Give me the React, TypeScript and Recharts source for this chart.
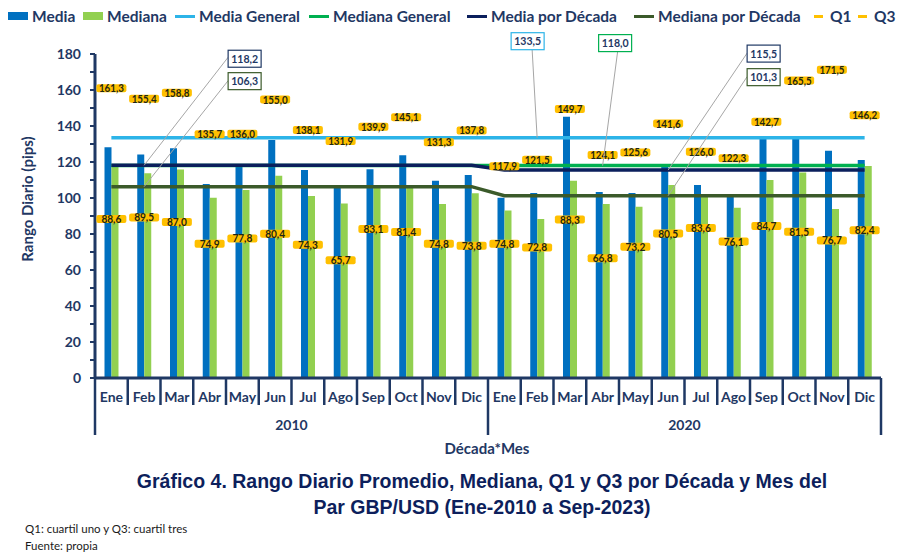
import React from "react";
import { ComposedChart, Bar, Line, XAxis, YAxis } from "recharts";

const meses = ["Ene", "Feb", "Mar", "Abr", "May", "Jun", "Jul", "Ago", "Sep", "Oct", "Nov", "Dic"];
const decadas = ["2010", "2020"];

const media2010 = [128.2, 124.1, 127.6, 107.8, 118.3, 132.2, 115.6, 106.3, 116.0, 123.7, 109.6, 112.8];
const media2020 = [100.2, 102.8, 145.2, 103.3, 102.8, 117.4, 107.2, 101.7, 133.1, 134.1, 126.3, 121.1];
const mediana2010 = [117.8, 113.7, 115.9, 100.2, 104.4, 112.4, 101.1, 97.0, 105.6, 105.8, 96.7, 102.6];
const mediana2020 = [93.0, 88.3, 109.6, 96.7, 95.2, 107.2, 101.5, 94.6, 110.0, 114.1, 93.9, 117.8];
const q1_2010 = [88.6, 89.5, 87.0, 74.9, 77.8, 80.4, 74.3, 65.7, 83.1, 81.4, 74.8, 73.8];
const q1_2020 = [74.8, 72.8, 88.3, 66.8, 73.2, 80.5, 83.6, 76.1, 84.7, 81.5, 76.7, 82.4];
const q3_2010 = [161.3, 155.4, 158.8, 135.7, 136.0, 155.0, 138.1, 131.9, 139.9, 145.1, 131.3, 137.8];
const q3_2020 = [117.9, 121.5, 149.7, 124.1, 125.6, 141.6, 126.0, 122.3, 142.7, 165.5, 171.5, 146.2];

const mediaGeneral = 133.5;
const medianaGeneral = 118.0;
const mediaDecada = [118.2, 115.5];
const medianaDecada = [106.3, 101.3];

const yTicks = [0, 10, 20, 30, 40, 50, 60, 70, 80, 90, 100, 110, 120, 130, 140, 150, 160, 170, 180];

const porDecada = [
  { media: media2010, mediana: mediana2010, q1: q1_2010, q3: q3_2010 },
  { media: media2020, mediana: mediana2020, q1: q1_2020, q3: q3_2020 },
];

const data = decadas.flatMap((decada, d) =>
  meses.map((mes, m) => ({
    mes,
    decada,
    media: porDecada[d].media[m],
    mediana: porDecada[d].mediana[m],
    q1: porDecada[d].q1[m],
    q3: porDecada[d].q3[m],
    mediaGeneral,
    medianaGeneral,
    mediaDecada: mediaDecada[d],
    medianaDecada: medianaDecada[d],
  }))
);

const NAVY = "#1F3864";
const C_MEDIA = "#0070C0";
const C_MEDIANA = "#92D050";
const C_MEDIA_GEN = "#2DB4E8";
const C_MEDIANA_GEN = "#00B050";
const C_MEDIA_DEC = "#0B1F5C";
const C_MEDIANA_DEC = "#3B5A2A";
const C_Q = "#FFC000";

const W = 900;
const CHART_H = 445;
const MARGIN = { top: 54, right: 19, left: 40, bottom: 0 };
const Y_W = 55;
const PLOT_W = W - MARGIN.left - MARGIN.right - Y_W;

const SANS = "Lato, 'Open Sans', sans-serif";

const fmt = (v: number) => v.toFixed(1).replace(".", ",");

const legend = [
  { name: "Media", color: C_MEDIA, kind: "box", left: 8 },
  { name: "Mediana", color: C_MEDIANA, kind: "box", left: 83 },
  { name: "Media General", color: C_MEDIA_GEN, kind: "line", left: 175 },
  { name: "Mediana General", color: C_MEDIANA_GEN, kind: "line", left: 309 },
  { name: "Media por Década", color: C_MEDIA_DEC, kind: "line", left: 467 },
  { name: "Mediana por Década", color: C_MEDIANA_DEC, kind: "line", left: 634 },
  { name: "Q1", color: C_Q, kind: "dash", left: 814 },
  { name: "Q3", color: C_Q, kind: "dash", left: 858 },
];

// cajas de etiqueta con línea guía, relativas al punto
const callouts = [
  { serie: "mediaDecada", index: 1, dx: 84, dy: -115, lx: 84, ly: -108, border: NAVY },
  { serie: "medianaDecada", index: 1, dx: 84, dy: -114, lx: 84, ly: -106, border: C_MEDIANA_DEC },
  { serie: "mediaGeneral", index: 13, dx: -26, dy: -105, lx: -5, ly: -88, border: C_MEDIA_GEN },
  { serie: "medianaGeneral", index: 15, dx: -4, dy: -131, lx: 15, ly: -114, border: C_MEDIANA_GEN },
  { serie: "mediaDecada", index: 17, dx: 79, dy: -125, lx: 79, ly: -117, border: NAVY },
  { serie: "medianaDecada", index: 17, dx: 79, dy: -127, lx: 79, ly: -119, border: C_MEDIANA_DEC },
];

const renderCallout = (serie: string) => (props: any) => {
  const { x, y, index, value } = props;
  const c = callouts.find((k) => k.serie === serie && k.index === index);
  if (!c || x == null || y == null) return <g key={`${serie}-lbl-${index}`} />;
  const bw = 33;
  const bh = 17;
  return (
    <g key={`${serie}-lbl-${index}`}>
      <line x1={x} y1={y} x2={x + c.lx} y2={y + c.ly} stroke="#A6A6A6" strokeWidth={1} />
      <rect x={x + c.dx} y={y + c.dy} width={bw} height={bh} fill="#fff" stroke={c.border} strokeWidth={1.2} />
      <text
        x={x + c.dx + bw / 2}
        y={y + c.dy + 12.5}
        textAnchor="middle"
        fontFamily={SANS}
        fontWeight={700}
        fontSize={12}
        textLength={27}
        lengthAdjust="spacingAndGlyphs"
        fill={NAVY}
      >
        {fmt(value)}
      </text>
    </g>
  );
};

const renderQ = (serie: string) => (props: any) => {
  const { cx, cy, value, index } = props;
  if (cx == null || cy == null) return <g key={`${serie}-${index}`} />;
  const txt = fmt(value);
  return (
    <g key={`${serie}-${index}`}>
      <rect x={cx - 15} y={cy - 3.5} width={30} height={8} rx={2} fill={C_Q} />
      <text
        x={cx}
        y={cy + 4.5}
        textAnchor="middle"
        fontFamily={SANS}
        fontWeight={700}
        fontSize={12}
        textLength={txt.length * 5}
        lengthAdjust="spacingAndGlyphs"
        fill="#1E2614"
      >
        {txt}
      </text>
    </g>
  );
};

const YTick = (props: any) => {
  const { x, y, payload } = props;
  if (payload.value % 20 !== 0) return <g />;
  return (
    <text x={x} y={y + 5} textAnchor="end" fontFamily={SANS} fontWeight={700} fontSize={14} fill={NAVY}>
      {payload.value}
    </text>
  );
};

const XTick = (props: any) => {
  const { x, y, payload } = props;
  const i = props.index ?? payload.index;
  const band = PLOT_W / data.length;
  const left = x - band / 2;
  const groupStart = i % meses.length === 0;
  const last = i === data.length - 1;
  const mid = i % meses.length === meses.length / 2;
  return (
    <g>
      <text x={x} y={y + 24} textAnchor="middle" fontFamily={SANS} fontWeight={700} fontSize={14} fill={NAVY}>
        {payload.value}
      </text>
      <line x1={left} x2={left} y1={y} y2={y + (groupStart ? 57 : 27)} stroke={NAVY} strokeWidth={2.5} />
      {last && <line x1={x + band / 2} x2={x + band / 2} y1={y} y2={y + 57} stroke={NAVY} strokeWidth={2.5} />}
      {mid && (
        <text x={left} y={y + 52} textAnchor="middle" fontFamily={SANS} fontWeight={700} fontSize={14} fill={NAVY}>
          {data[i].decada}
        </text>
      )}
    </g>
  );
};

export default function App() {
  return (
    <div
      style={{
        position: "fixed",
        left: 0,
        top: 0,
        width: W,
        height: 557,
        background: "#fff",
        overflow: "hidden",
        fontFamily: SANS,
      }}
    >
      {legend.map((l) => (
        <div
          key={l.name}
          style={{
            position: "absolute",
            left: l.left,
            top: 7,
            display: "flex",
            alignItems: "center",
            fontWeight: 700,
            fontSize: 15.5,
            color: NAVY,
            whiteSpace: "nowrap",
          }}
        >
          <span
            style={{
              display: "inline-block",
              width: l.kind === "dash" ? 9 : 20,
              height: l.kind === "box" ? 8 : 3,
              background: l.color,
              marginRight: l.kind === "dash" ? 7 : 4,
            }}
          />
          {l.name}
        </div>
      ))}

      <div
        style={{
          position: "absolute",
          left: 27,
          top: 199,
          transform: "translate(-50%, -50%) rotate(-90deg)",
          fontWeight: 700,
          fontSize: 15,
          color: NAVY,
          whiteSpace: "nowrap",
        }}
      >
        Rango Diario (pips)
      </div>

      <div style={{ position: "absolute", left: 0, top: 0 }}>
        <ComposedChart
          width={W}
          height={CHART_H}
          data={data}
          margin={MARGIN}
          barCategoryGap="29%"
          barGap={0}
        >
          <XAxis
            dataKey="mes"
            interval={0}
            height={67}
            tickSize={0}
            tickMargin={0}
            tickLine={false}
            axisLine={{ stroke: NAVY, strokeWidth: 3 }}
            tick={<XTick />}
          />
          <YAxis
            width={Y_W}
            domain={[0, 180]}
            ticks={yTicks}
            interval={0}
            tickSize={5}
            tickMargin={9}
            tickLine={{ stroke: NAVY, strokeWidth: 2 }}
            axisLine={{ stroke: NAVY, strokeWidth: 3 }}
            tick={<YTick />}
          />
          <Bar dataKey="media" name="Media" fill={C_MEDIA} isAnimationActive={false} />
          <Bar dataKey="mediana" name="Mediana" fill={C_MEDIANA} isAnimationActive={false} />
          <Line
            dataKey="mediaGeneral"
            name="Media General"
            stroke={C_MEDIA_GEN}
            strokeWidth={3.5}
            dot={false}
            activeDot={false}
            isAnimationActive={false}
            label={renderCallout("mediaGeneral")}
          />
          <Line
            dataKey="medianaGeneral"
            name="Mediana General"
            stroke={C_MEDIANA_GEN}
            strokeWidth={3.5}
            dot={false}
            activeDot={false}
            isAnimationActive={false}
            label={renderCallout("medianaGeneral")}
          />
          <Line
            dataKey="mediaDecada"
            name="Media por Década"
            stroke={C_MEDIA_DEC}
            strokeWidth={3.5}
            dot={false}
            activeDot={false}
            isAnimationActive={false}
            label={renderCallout("mediaDecada")}
          />
          <Line
            dataKey="medianaDecada"
            name="Mediana por Década"
            stroke={C_MEDIANA_DEC}
            strokeWidth={3.5}
            dot={false}
            activeDot={false}
            isAnimationActive={false}
            label={renderCallout("medianaDecada")}
          />
          <Line
            dataKey="q1"
            name="Q1"
            stroke="none"
            strokeWidth={0}
            dot={renderQ("q1")}
            activeDot={false}
            isAnimationActive={false}
          />
          <Line
            dataKey="q3"
            name="Q3"
            stroke="none"
            strokeWidth={0}
            dot={renderQ("q3")}
            activeDot={false}
            isAnimationActive={false}
          />
        </ComposedChart>
      </div>

      <div
        style={{
          position: "absolute",
          left: 487,
          top: 439,
          transform: "translateX(-50%)",
          fontWeight: 700,
          fontSize: 15,
          color: NAVY,
          whiteSpace: "nowrap",
        }}
      >
        Década*Mes
      </div>

      <div
        style={{
          position: "absolute",
          left: 0,
          width: 964,
          top: 468,
          textAlign: "center",
          fontFamily: "'Liberation Sans', Arial, sans-serif",
          fontWeight: 700,
          fontSize: 19.5,
          lineHeight: "26px",
          color: "#0D1F5C",
        }}
      >
        Gráfico 4. Rango Diario Promedio, Mediana, Q1 y Q3 por Década y Mes del
        <br />
        Par GBP/USD (Ene-2010 a Sep-2023)
      </div>

      <div
        style={{
          position: "absolute",
          left: 25,
          top: 520,
          fontFamily: SANS,
          fontSize: 11.5,
          lineHeight: "17px",
          color: "#1a1a1a",
        }}
      >
        Q1: cuartil uno y Q3: cuartil tres
        <br />
        Fuente: propia
      </div>
    </div>
  );
}
